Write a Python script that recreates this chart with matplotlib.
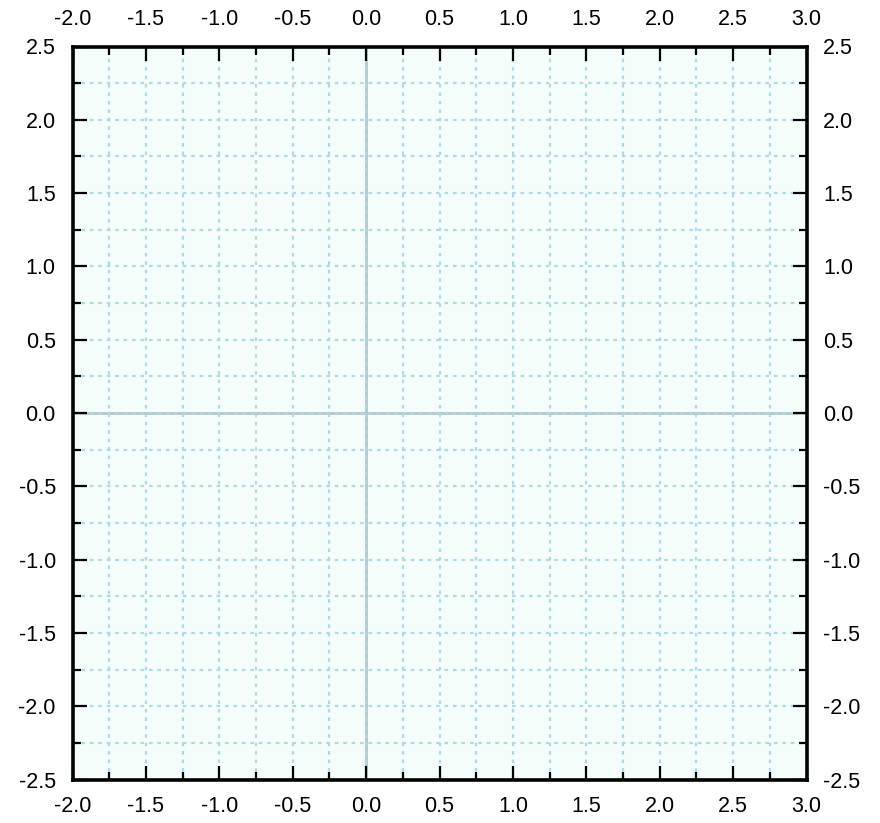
import numpy as np
import matplotlib.pyplot as plt
from matplotlib.ticker import MultipleLocator, FormatStrFormatter

plt.rcParams['font.family'] = ['Liberation Sans', 'DejaVu Sans']

x_range = [-2.0, 3.0]
y_range = [-2.5, 2.5]
major_step = 0.5
minor_step = 0.25

fig = plt.figure(figsize=(8.8, 8.23), dpi=100)
ax = fig.add_axes([72.5/880, 43.5/823, 734/880, 733/823])
ax.set_facecolor('#f5fdfb')
ax.set_xlim(x_range)
ax.set_ylim(y_range)

# zero lines
ax.axhline(0, color='#b8c4c8', lw=2, zorder=1)
ax.axvline(0, color='#b8c4c8', lw=2, zorder=1)

for axis in (ax.xaxis, ax.yaxis):
    axis.set_major_locator(MultipleLocator(major_step))
    axis.set_minor_locator(MultipleLocator(minor_step))
    axis.set_major_formatter(FormatStrFormatter('%.1f'))

ax.grid(which='both', color='#add8e6', linestyle=(0, (1.6, 2.2)), lw=1.6, zorder=2)
ax.set_axisbelow(False)

ax.tick_params(which='both', direction='in', top=True, right=True,
               labeltop=True, labelright=True, labelsize=15.5, width=1.6, pad=12)
ax.tick_params(which='major', length=10)
ax.tick_params(which='minor', length=5.8)

for s in ax.spines.values():
    s.set_linewidth(2.6)
    s.set_zorder(5)

plt.savefig('out.png', dpi=100)
